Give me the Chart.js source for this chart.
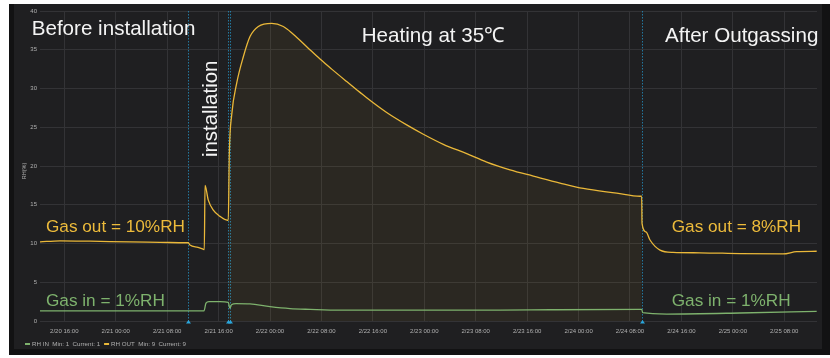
<!DOCTYPE html>
<html>
<head>
<meta charset="utf-8">
<script src="https://cdn.jsdelivr.net/npm/chart.js@4.4.1/dist/chart.umd.min.js"></script>
<style>
  body { margin: 0; background: #fff; }
  #wrap { position: relative; width: 830px; height: 358px; overflow: hidden; }
  #frame { position: absolute; left: 9px; top: 4px; width: 821px; height: 351px; background: #121213; }
  #panel { position: absolute; left: 14px; top: 4px; width: 808px; height: 345px; background: #1f1f21; }
  canvas { position: absolute; left: 0; top: 0; }
</style>
</head>
<body>
<div id="wrap">
  <div id="frame"></div>
  <div id="panel"></div>
  <canvas id="rhChart" width="830" height="358"></canvas>
</div>
<script>
// time axis is in hours since 2/20 00:00
const xTicks = [16, 24, 32, 40, 48, 56, 64, 72, 80, 88, 96, 104, 112, 120, 128];
const yTicks = [0, 5, 10, 15, 20, 25, 30, 35, 40];

// RH OUT (%)
const outHours = [12.22, 15.33, 20.0, 26.22, 30.89, 34.93, 35.29, 35.55, 36.80, 37.62, 37.78, 37.89,
  38.40, 39.18, 40.22, 41.36, 41.51, 41.67, 42.04, 42.82, 43.85, 44.89, 46.18, 48.26, 50.07, 51.62,
  53.71, 55.78, 57.60, 59.93, 62.0, 63.04, 66.15, 69.26, 71.85, 74.96, 78.60, 81.71, 85.33, 88.96,
  93.11, 96.74, 101.93, 105.55, 105.82, 105.87, 106.49, 107.11, 108.67, 110.69, 114.89, 121.11, 127.80, 129.93, 133.04];
const outValues = [10.2, 10.35, 10.3, 10.2, 10.15, 10.1, 10.1, 9.8, 9.5, 9.25, 9.2, 17.5,
  15.6, 14.3, 13.5, 13.0, 13.0, 21.6, 26.6, 30.7, 34.1, 36.7, 38.0, 38.4, 38.0, 37.0,
  35.4, 33.8, 32.5, 30.9, 29.5, 28.8, 26.9, 25.3, 24.1, 22.8, 21.6, 20.5, 19.5, 18.7,
  17.8, 17.1, 16.5, 16.1, 16.1, 12.6, 11.5, 10.45, 9.15, 8.85, 8.8, 8.7, 8.65, 8.95, 9.0];

// RH IN (%)
const inHours = [12.22, 37.73, 38.04, 38.51, 40.22, 41.51, 41.75, 42.01, 42.71, 44.89, 48.0, 51.11,
  54.22, 58.89, 68.22, 83.78, 91.55, 105.82, 105.98, 109.71, 121.11, 133.04];
const inValues = [1.3, 1.3, 2.3, 2.5, 2.5, 2.4, 1.65, 2.1, 2.25, 2.2, 1.85, 1.6,
  1.5, 1.4, 1.4, 1.4, 1.45, 1.5, 1.07, 0.9, 1.03, 1.25];

// installation start, two installation marks, end of heating
const eventHours = [35.29, 41.51, 41.78, 105.82];

const notes = [
  { text: 'Before installation', x: 10.93, y: 36.9, color: '#f4f4f4', size: 20.6 },
  { text: 'installation', x: 39.71, y: 21.16, color: '#f4f4f4', size: 20.4, rotate: true },
  { text: 'Heating at 35\u2103', x: 62.26, y: 36.04, color: '#f4f4f4', size: 20.6 },
  { text: 'After Outgassing', x: 109.44, y: 35.96, color: '#f4f4f4', size: 20.6 },
  { text: 'Gas out = 10%RH', x: 13.15, y: 11.52, color: '#EDBB3B', size: 17.2 },
  { text: 'Gas out = 8%RH', x: 110.49, y: 11.52, color: '#EDBB3B', size: 17.2 },
  { text: 'Gas in = 1%RH', x: 13.15, y: 1.9, color: '#7EB26D', size: 17.2 },
  { text: 'Gas in = 1%RH', x: 110.49, y: 1.9, color: '#7EB26D', size: 17.2 }
];

const FONT = "'Liberation Sans', Arial, Helvetica, sans-serif";
const gridColor = '#333336';
const tickColor = '#b0b0b0';
const heatFill = 'rgba(234, 184, 57, 0.06)';

const pad2 = n => String(n).padStart(2, '0');
const fmtTime = h => '2/' + (20 + Math.floor(h / 24)) + ' ' + pad2(h % 24) + ':00';
const toPoints = (xs, ys) => xs.map((x, i) => ({ x, y: ys[i] }));

const eventMarks = {
  id: 'eventMarks',
  beforeDatasetsDraw(chart) {
    const { ctx, chartArea: a, scales: { x } } = chart;
    ctx.save();
    ctx.strokeStyle = 'rgba(38, 150, 200, 0.75)';
    ctx.lineWidth = 1;
    ctx.setLineDash([1.5, 1.5]);
    eventHours.forEach(h => {
      const px = Math.round(x.getPixelForValue(h)) + 0.5;
      ctx.beginPath();
      ctx.moveTo(px, a.top);
      ctx.lineTo(px, a.bottom);
      ctx.stroke();
    });
    ctx.setLineDash([]);
    ctx.fillStyle = '#2aa6dc';
    eventHours.forEach(h => {
      const px = Math.round(x.getPixelForValue(h)) + 0.5;
      ctx.beginPath();
      ctx.moveTo(px, a.bottom - 1);
      ctx.lineTo(px + 2.5, a.bottom + 2.5);
      ctx.lineTo(px - 2.5, a.bottom + 2.5);
      ctx.closePath();
      ctx.fill();
    });
    ctx.restore();
  },
  afterDraw(chart) {
    const { ctx, scales: { x, y } } = chart;
    ctx.save();

    // phase notes
    notes.forEach(n => {
      const px = x.getPixelForValue(n.x);
      const py = y.getPixelForValue(n.y);
      ctx.font = n.size + 'px ' + FONT;
      ctx.fillStyle = n.color;
      ctx.textAlign = 'left';
      ctx.textBaseline = 'alphabetic';
      if (n.rotate) {
        ctx.save();
        ctx.translate(px, py);
        ctx.rotate(-Math.PI / 2);
        ctx.fillText(n.text, 0, 0);
        ctx.restore();
      } else {
        ctx.fillText(n.text, px, py);
      }
    });

    // y axis title
    ctx.save();
    ctx.translate(24, (chart.chartArea.top + chart.chartArea.bottom) / 2 + 5);
    ctx.rotate(-Math.PI / 2);
    ctx.font = '5.5px ' + FONT;
    ctx.fillStyle = tickColor;
    ctx.textAlign = 'center';
    ctx.textBaseline = 'middle';
    ctx.fillText('RH(%)', 0, 0);
    ctx.restore();

    // legend with min / current
    ctx.font = '6.2px ' + FONT;
    ctx.textBaseline = 'middle';
    let lx = 25;
    const ly = 344;
    chart.data.datasets.forEach(ds => {
      const vals = ds.data.map(p => p.y);
      const min = Math.round(Math.min(...vals));
      const cur = Math.round(vals[vals.length - 1]);
      ctx.fillStyle = ds.borderColor;
      ctx.fillRect(lx, ly - 1, 5, 2);
      const label = ds.label + '  Min: ' + min + '  Current: ' + cur;
      ctx.fillStyle = tickColor;
      ctx.fillText(label, lx + 7, ly);
      lx += 7 + ctx.measureText(label).width + 4;
    });
    ctx.restore();
  }
};

new Chart(document.getElementById('rhChart'), {
  type: 'line',
  data: {
    datasets: [
      {
        label: 'RH IN',
        data: toPoints(inHours, inValues),
        borderColor: '#7EB26D',
        borderWidth: 1.3,
        pointRadius: 0,
        fill: false,
        cubicInterpolationMode: 'monotone'
      },
      {
        label: 'RH OUT',
        data: toPoints(outHours, outValues),
        borderColor: '#EAB839',
        borderWidth: 1.3,
        pointRadius: 0,
        cubicInterpolationMode: 'monotone',
        fill: 'origin',
        backgroundColor: 'rgba(0,0,0,0)',
        segment: {
          // shade only the heating phase
          backgroundColor: c => (c.p0.parsed.x >= eventHours[1] && c.p0.parsed.x < eventHours[3]) ? heatFill : 'rgba(0,0,0,0)'
        }
      }
    ]
  },
  options: {
    responsive: false,
    animation: false,
    layout: { padding: { top: 11, right: 13, bottom: 0, left: 0 } },
    plugins: {
      legend: { display: false },
      tooltip: { enabled: false }
    },
    scales: {
      x: {
        type: 'linear',
        min: 12.22,
        max: 133.09,
        afterBuildTicks: s => { s.ticks = xTicks.map(v => ({ value: v })); },
        afterFit: s => { s.height = 37; },
        grid: { color: gridColor, drawTicks: false },
        border: { display: false },
        ticks: {
          autoSkip: false,
          maxRotation: 0,
          padding: 7,
          color: tickColor,
          font: { size: 6, family: FONT },
          callback: v => fmtTime(v)
        }
      },
      y: {
        min: 0,
        max: 40,
        afterBuildTicks: s => { s.ticks = yTicks.map(v => ({ value: v })); },
        afterFit: s => { s.width = 40; },
        grid: { color: gridColor, drawTicks: false },
        border: { display: false },
        ticks: {
          padding: 3,
          color: tickColor,
          font: { size: 6, family: FONT },
          callback: v => v
        }
      }
    }
  },
  plugins: [eventMarks]
});
</script>
</body>
</html>
